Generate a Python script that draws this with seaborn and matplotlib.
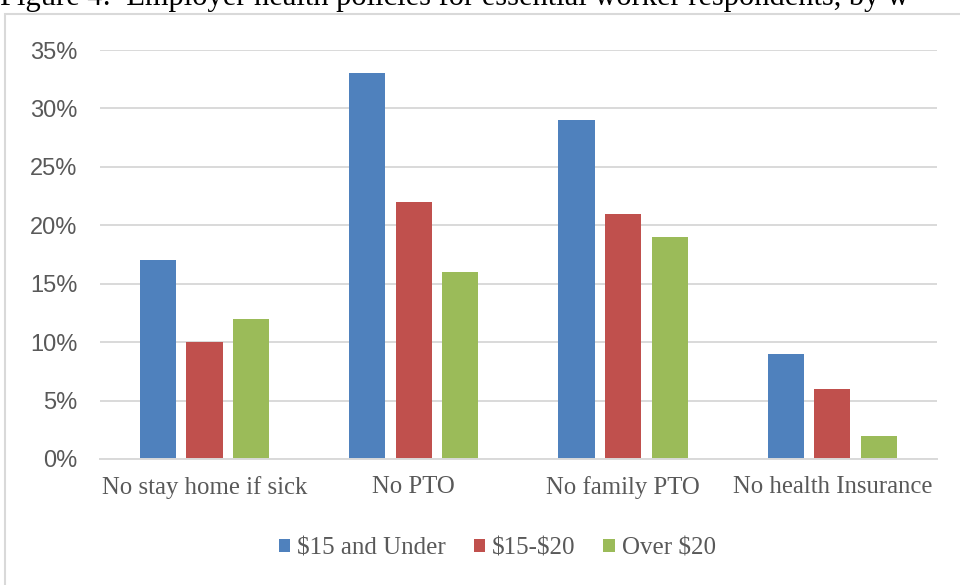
import seaborn as sns
import matplotlib.pyplot as plt
import pandas as pd
from matplotlib.patches import Rectangle

# data
categories = ['No stay home if sick', 'No PTO', 'No family PTO', 'No health Insurance']
groups = ['$15 and Under', '$15-$20', 'Over $20']
under15 = [17, 33, 29, 9]
mid15_20 = [10, 22, 21, 6]
over20 = [12, 16, 19, 2]
colors = ['#4F81BD', '#C0504D', '#9BBB59']

rows = []
for g, vals in zip(groups, [under15, mid15_20, over20]):
    for c, v in zip(categories, vals):
        rows.append({'category': c, 'group': g, 'pct': v})
df = pd.DataFrame(rows)

sns.set_style('white')
plt.rcParams['text.parse_math'] = False
fig = plt.figure(figsize=(9.6, 5.85), dpi=100)
ax = fig.add_axes([0.104, 0.2154, 0.872, 0.6991])

sns.barplot(data=df, x='category', y='pct', hue='group', palette=colors,
            width=0.667, gap=0.225, saturation=1, linewidth=0, ax=ax, legend=True)

ax.set_ylim(0, 35)
ax.set_xlim(-0.5, 3.5)
ax.set_yticks(range(0, 36, 5))
ax.set_yticklabels([f'{t}%' for t in range(0, 36, 5)],
                   fontfamily='Liberation Sans', fontsize=17, color='#595959')
ax.set_xticks(range(len(categories)))
ax.set_xticklabels(categories, fontfamily='Liberation Serif', fontsize=17.8, color='#595959')
ax.tick_params(axis='y', length=0, pad=16)
ax.tick_params(axis='x', length=0, pad=12)
ax.set_xlabel('')
ax.set_ylabel('')
ax.yaxis.grid(True, color='#d9d9d9', lw=1.4)
ax.set_axisbelow(True)
for s in ['top', 'right', 'left']:
    ax.spines[s].set_visible(False)
ax.spines['bottom'].set_color('#d9d9d9')
ax.spines['bottom'].set_linewidth(1.4)

handles, labels = ax.get_legend_handles_labels()
ax.legend_.remove()
fig.legend(handles, labels, loc='center', bbox_to_anchor=(0.518, 0.063), ncol=3,
           frameon=False, handlelength=0.45, handleheight=0.45, handletextpad=0.3,
           columnspacing=1.1, prop={'family': 'Liberation Serif', 'size': 18},
           labelcolor='#595959')

# chart frame (cropped at right and bottom)
fig.patches.append(Rectangle((5 / 960, -0.1), 1.2, 1.1 - 14 / 585, transform=fig.transFigure,
                             fill=False, edgecolor='#d9d9d9', lw=1.5))

# caption above the chart, cropped as in the source image
fig.text(0.0, 1 - 5 / 585, 'Figure 4:  Employer health policies for essential worker respondents, by w',
         fontfamily='Liberation Serif', fontsize=22, color='black', va='baseline', ha='left')

fig.savefig('out.png', dpi=100)
